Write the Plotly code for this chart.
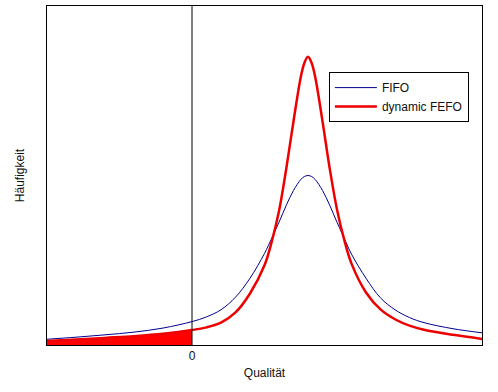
import plotly.graph_objects as go

# Quality axis positions (arbitrary units, 0 = quality limit)
quality = [-5, -4, -3, -2, -1, 0, 0.5, 1, 1.5, 2, 2.5, 2.75, 3, 3.25, 3.5, 3.75, 3.875, 4,
           4.125, 4.25, 4.5, 4.75, 5, 5.25, 5.5, 6, 6.5, 7, 7.5, 8, 9, 10]

fifo = [0.017, 0.023, 0.030, 0.038, 0.050, 0.069, 0.083, 0.104, 0.141, 0.197, 0.270, 0.315,
        0.362, 0.412, 0.456, 0.488, 0.497, 0.500,
        0.497, 0.488, 0.456, 0.412, 0.362, 0.315, 0.268, 0.197, 0.139, 0.104, 0.081, 0.066,
        0.048, 0.036]

dyn_fefo = [0.012, 0.016, 0.021, 0.026, 0.033, 0.044, 0.052, 0.066, 0.096, 0.152, 0.235, 0.305,
            0.395, 0.520, 0.660, 0.790, 0.832, 0.850,
            0.832, 0.790, 0.660, 0.520, 0.400, 0.310, 0.240, 0.155, 0.105, 0.076, 0.057, 0.045,
            0.030, 0.018]

x_ticks = [0]
x_tick_labels = ["0"]

FONT = "Liberation Sans, Arial, sans-serif"

# red filled area below quality limit
fill_x = [q for q in quality if q <= 0]
fill_y = [v for q, v in zip(quality, dyn_fefo) if q <= 0]

fig = go.Figure()
fig.add_trace(go.Scatter(x=fill_x, y=fill_y, mode="lines", fill="tozeroy",
                         fillcolor="#FF0000", line=dict(color="#CC0000", width=1, shape="spline"),
                         showlegend=False, hoverinfo="skip"))
fig.add_trace(go.Scatter(x=quality, y=fifo, mode="lines", name="FIFO",
                         line=dict(color="#000090", width=1, shape="spline")))
fig.add_trace(go.Scatter(x=quality, y=dyn_fefo, mode="lines", name="dynamic FEFO",
                         line=dict(color="#EE0000", width=2.5, shape="spline")))

fig.add_shape(type="line", x0=0, x1=0, y0=0, y1=1, xref="x", yref="paper",
              line=dict(color="black", width=1), layer="above")

fig.update_layout(
    width=498, height=392,
    margin=dict(l=47, r=16, t=6, b=47),
    paper_bgcolor="white", plot_bgcolor="white",
    font=dict(family=FONT, size=12, color="#111111"),
    legend=dict(x=0.648, y=0.805, xanchor="left", yanchor="top",
                bgcolor="white", bordercolor="black", borderwidth=1,
                itemwidth=42, tracegroupgap=0,
                font=dict(family=FONT, size=12, color="#111111")),
    xaxis=dict(range=[-5, 10], showgrid=False, zeroline=False,
               tickvals=x_ticks, ticktext=x_tick_labels, ticks="",
               showline=True, linecolor="black", linewidth=1, mirror=True,
               title=dict(text="Qualität", standoff=6, font=dict(size=12))),
    yaxis=dict(range=[0, 1], showgrid=False, zeroline=False, showticklabels=False, ticks="",
               showline=True, linecolor="black", linewidth=1, mirror=True,
               title=dict(text="Häufigkeit", standoff=18, font=dict(size=12))),
)

fig.write_html("out.html", config={"displayModeBar": False},
               post_script="document.body.style.margin='0';")
